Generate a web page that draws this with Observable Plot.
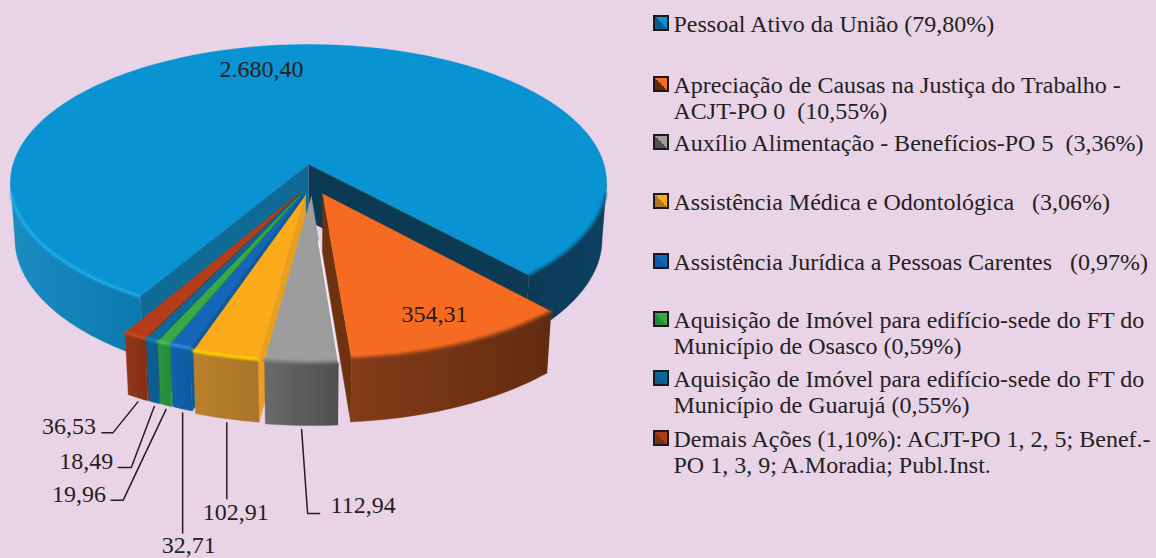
<!DOCTYPE html>
<html lang="pt">
<head>
<meta charset="utf-8">
<script src="https://cdn.jsdelivr.net/npm/d3@7"></script>
<script src="https://cdn.jsdelivr.net/npm/@observablehq/plot@0.6"></script>
<style>
  html, body { margin: 0; padding: 0; background: #e9d3e7; }
  #page { position: relative; width: 1156px; height: 558px; overflow: hidden; background: #e9d3e7; font-family: "Liberation Serif", serif; color: #231f20; }
  #chart { position: absolute; left: 0; top: 0; }
  #legend { position: absolute; left: 653px; top: 0; width: 503px; }
  .item { position: absolute; left: 0; white-space: pre; font-size: 24px; line-height: 26px; padding-left: 20.5px; }
  .swatch { position: absolute; left: 0; top: 4px; width: 12px; height: 12px; border: 2px solid #1a1a1c; }
</style>
</head>
<body>
<div id="page"><div id="chart"></div><div id="legend"></div></div>
<script>
// ---------- data ----------
const categories = [
  "Pessoal Ativo da União (79,80%)",
  "Apreciação de Causas na Justiça do Trabalho -\nACJT-PO 0  (10,55%)",
  "Auxílio Alimentação - Benefícios-PO 5  (3,36%)",
  "Assistência Médica e Odontológica   (3,06%)",
  "Assistência Jurídica a Pessoas Carentes   (0,97%)",
  "Aquisição de Imóvel para edifício-sede do FT do\nMunicípio de Osasco (0,59%)",
  "Aquisição de Imóvel para edifício-sede do FT do\nMunicípio de Guarujá (0,55%)",
  "Demais Ações (1,10%): ACJT-PO 1, 2, 5; Benef.-\nPO 1, 3, 9; A.Moradia; Publ.Inst."
];
const values = [2680.40, 354.31, 112.94, 102.91, 32.71, 19.96, 18.49, 36.53];
const valueLabels = ["2.680,40", "354,31", "112,94", "102,91", "32,71", "19,96", "18,49", "36,53"];

// ---------- colours ----------
const topColors  = ["#0993d3", "#f46b21", "#9d9d9d", "#fbaa19", "#1565b8", "#39a846", "#0b689a", "#b33c1a"];
const wallColors = [["#1a8cc2", "#0a7aae"], ["#843c1a", "#622b10"], ["#6a6a6a", "#4f4f4f"], ["#bb802b", "#a8752a"],
                    ["#0f62ae", "#0d5aa0"], ["#2a9440", "#268a3a"], ["#0a6098", "#0a5c90"], ["#90361a", "#83300f"]];
const sideColors = ["#0f6a96", "#6e3210", "#8a8a8a", "#e8a01e", "#0f5a9c", "#238a3a", "#0a5a88", "#7c2e12"];
const rimColors  = ["#22b0ee", "#93421a", "#7b7b7b", "#ffd000", "#2f8fdc", "#4cbc58", "#1583bb", "#c64a22"];

// ---------- perspective pie (tilted disc seen through a homography) ----------
const cx = 308, cy = 164, a = 295.5, b = 135.65, k = 0.1304, H = 57, e = 0.015;
const rad = Math.PI / 180;
const explode = [0, 0.215, 0.226, 0.218, 0.205, 0.205, 0.205, 0.205];
const pie = d3.pie().sort(null).startAngle(30.3 * rad).endAngle(30.3 * rad + 2 * Math.PI);
const arcs = pie(values);

function offsetOf(i) {
  const bis = (arcs[i].startAngle + arcs[i].endAngle) / 2;
  const phi = -Math.atan2(Math.sin(bis), Math.cos(bis));
  const dir = 3 * rad + 0.4 * phi;
  return [explode[i] * Math.sin(dir), explode[i] * Math.cos(dir)];
}
function project(i, th, r, lower) {
  const [ou, ov] = offsetOf(i);
  const u = -Math.sin(th) * r + ou, v = Math.cos(th) * r + ov;
  const w = 1 - k * v;
  return lower
    ? {x: cx + a * u / (w + e), y: cy + (b * v + H) / (w + e)}
    : {x: cx + a * u / w, y: cy + b * v / w};
}
function arcPts(i, t0, t1, lower) {
  const n = Math.max(2, Math.ceil(Math.abs(t1 - t0) / rad));
  return d3.range(n + 1).map(j => project(i, t0 + (t1 - t0) * j / n, 1, lower));
}
const topPoly  = i => [project(i, 0, 0, false), ...arcPts(i, arcs[i].startAngle, arcs[i].endAngle, false)];
const wallPoly = (i, t0, t1) => [...arcPts(i, t0, t1, false), ...arcPts(i, t0, t1, true).reverse()];
const cutPoly  = (i, t) => [project(i, t, 0, false), project(i, t, 1, false), project(i, t, 1, true), project(i, t, 0, true)];

const poly = (pts, fill) => Plot.line(pts, {x: "x", y: "y", fill, stroke: fill, strokeWidth: 0.4, curve: "linear"});
const rim = (pts, stroke, w, blur) => Plot.line(pts, {x: "x", y: "y", stroke, strokeWidth: w, imageFilter: `blur(${blur}px)`});

const defs = () => {
  const d = d3.create("svg:defs");
  wallColors.forEach((c, i) => {
    const g = d.append("linearGradient").attr("id", "wall" + i).attr("x1", 0).attr("x2", 1).attr("y1", 0).attr("y2", 0);
    g.append("stop").attr("offset", 0).attr("stop-color", c[0]);
    g.append("stop").attr("offset", 1).attr("stop-color", c[1]);
  });
  const r = d.append("linearGradient").attr("id", "wallRight").attr("x1", 0).attr("x2", 1).attr("y1", 0).attr("y2", 0);
  r.append("stop").attr("offset", 0).attr("stop-color", "#0b3a56");
  r.append("stop").attr("offset", 1).attr("stop-color", "#0d4060");
  return d.node();
};

// Main slice, seen from behind the exploded slices
const s0 = arcs[0].startAngle, e0 = arcs[0].endAngle;
const marks = [defs];
marks.push(
  poly(wallPoly(0, s0, 82.5 * rad), "url(#wall0)"),
  poly(wallPoly(0, e0, 277.5 * rad), "url(#wallRight)"),
  poly(topPoly(0), topColors[0]),
  rim(arcPts(0, s0, 78 * rad, false), rimColors[0], 2.6, 0.8),
  rim(arcPts(0, e0, 282 * rad, false), "#0a5f88", 2.6, 1.2),
  poly(cutPoly(0, s0), sideColors[0]),
  poly(cutPoly(0, e0), "#0b3a55")
);
// Exploded slices, painted from the outside towards the front centre
for (const i of [7, 6, 5, 4, 3, 1, 2]) {
  const {startAngle: s, endAngle: t} = arcs[i];
  if (i !== 2) marks.push(poly(cutPoly(i, i === 1 ? t : s), sideColors[i]));
  marks.push(poly(wallPoly(i, s, t), `url(#wall${i})`));
  marks.push(poly(topPoly(i), topColors[i]));
  marks.push(rim(arcPts(i, s, t, false), rimColors[i], 3, 0.9));
}
// pale sliver on the gray slice's right edge
marks.push(Plot.line([project(2, arcs[2].startAngle, 0.3, false), project(2, arcs[2].startAngle, 1, false)],
  {x: "x", y: "y", stroke: "#f6f0f6", strokeWidth: 1.6}));

// Value labels inside the two big slices
const inner = (i, r, dx, dy) => {
  const p = project(i, (arcs[i].startAngle + arcs[i].endAngle) / 2, r, false);
  return {x: p.x + dx, y: p.y + dy, label: valueLabels[i]};
};
const textBase = {x: "x", y: "y", text: "label", fontFamily: "Liberation Serif", fontSize: 24, fill: "#231f20"};
marks.push(Plot.text([inner(0, 0.78, -25, 0), inner(1, 0.62, 30, 32)], textBase));

// Leader lines for the outer labels: [slice, elbow dx, elbow dy, tail dx, text dx, text dy, anchor]
const leaders = [
  [2, 6, 84, 12, 11, -8, "start"],
  [3, 0, 76, 0, 9, 14, "middle"],
  [4, 0, 120, 0, 6, 12, "middle"],
  [5, -43, 91, -12, -5, -6, "end"],
  [6, -23, 61, -13, -5, -6, "end"],
  [7, -25, 31, -11, -6, -7, "end"]
];
for (const [i, ex, ey, tx, ldx, ldy, anchor] of leaders) {
  const m = project(i, (arcs[i].startAngle + arcs[i].endAngle) / 2, 1, true);
  const p0 = {x: m.x, y: m.y + 4}, p1 = {x: p0.x + ex, y: p0.y + ey}, p2 = {x: p1.x + tx, y: p1.y};
  marks.push(Plot.line([p0, p1, p2], {x: "x", y: "y", stroke: "#231f20", strokeWidth: 1.5}));
  marks.push(Plot.text([{x: p2.x + ldx, y: p2.y + ldy, label: valueLabels[i]}], {...textBase, textAnchor: anchor}));
}

const chart = Plot.plot({
  width: 640, height: 558,
  margin: 0,
  style: {background: "transparent", overflow: "visible"},
  x: {domain: [0, 640], range: [0, 640], axis: null},
  y: {domain: [0, 558], range: [0, 558], axis: null},
  marks
});
document.getElementById("chart").append(chart);

// ---------- legend ----------
const legendTops = [11, 72, 130, 189, 249, 307, 366, 426];
const legend = d3.select("#legend");
categories.forEach((c, i) => {
  const it = legend.append("div").attr("class", "item").style("top", legendTops[i] + "px").text(c);
  const wall = i === 0 ? "#0a5c88" : wallColors[i][1];
  it.append("span").attr("class", "swatch")
    .style("background", `linear-gradient(45deg, ${wall} 50%, ${topColors[i]} 50%)`);
});
</script>
</body>
</html>
